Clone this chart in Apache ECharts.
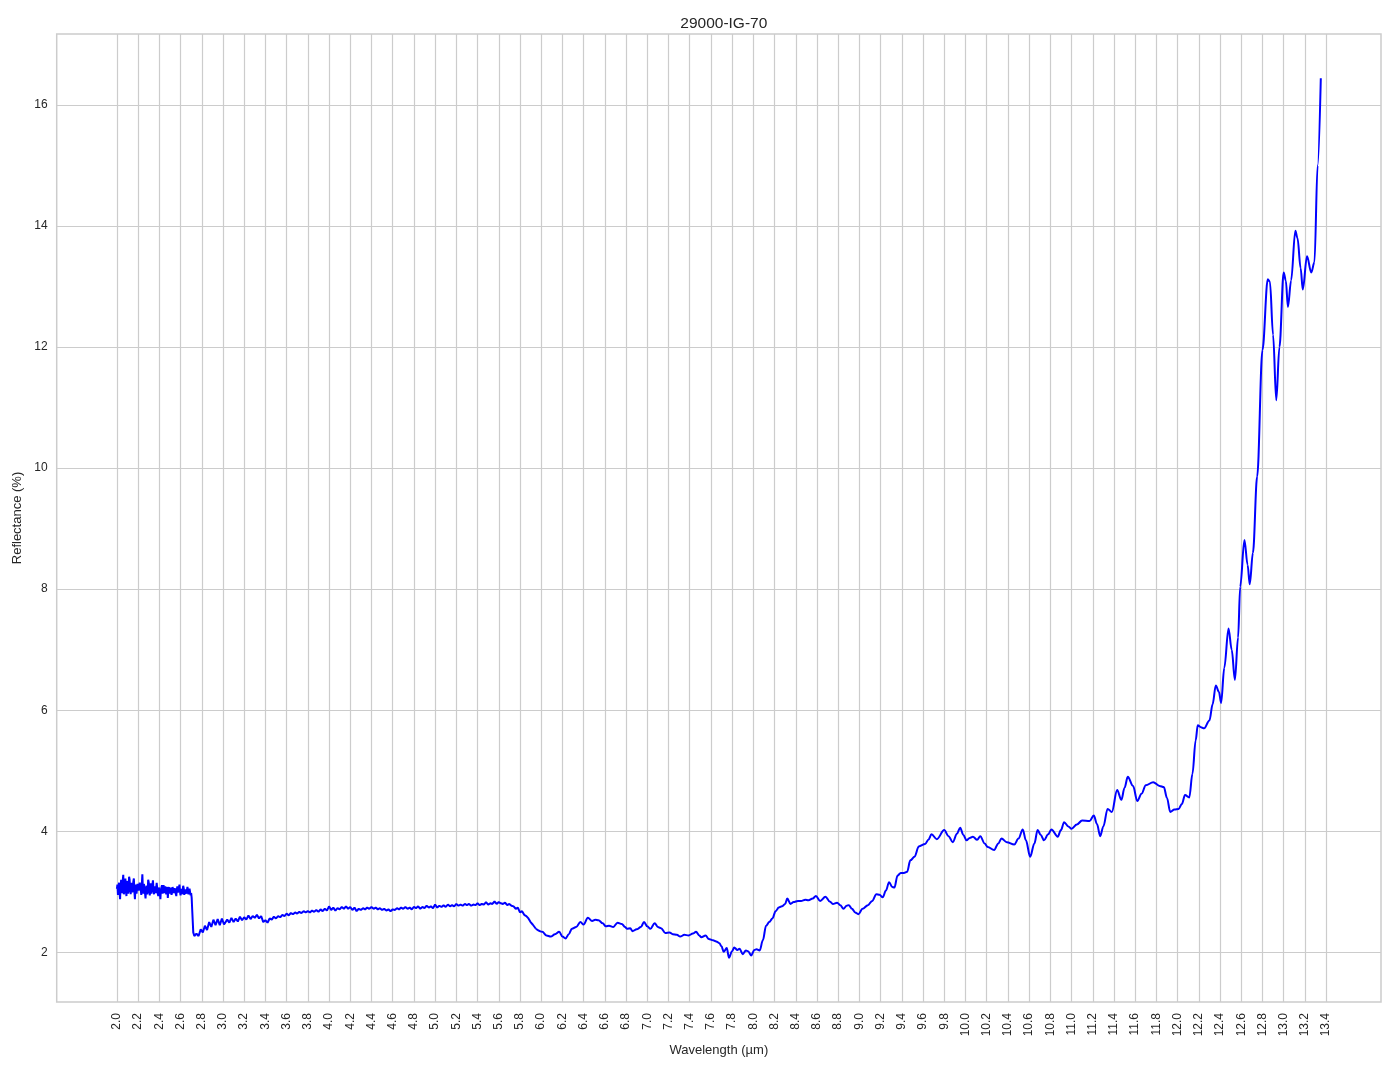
<!DOCTYPE html>
<html>
<head>
<meta charset="utf-8">
<script src="https://cdn.jsdelivr.net/npm/echarts@6/dist/echarts.min.js"></script>
<style>html,body{margin:0;padding:0;background:#fff}#c{width:1394px;height:1069px}</style>
</head>
<body>
<div id="c"></div>
<script>
// Noisy start of the spectrum [wavelength µm, reflectance %]
const noisyPart = [
[2.000,3.05],[2.005,3.12],[2.010,2.95],[2.015,3.08],[2.020,3.15],[2.025,2.99],[2.030,2.88],[2.035,3.10],[2.040,3.20],[2.045,3.03],
[2.050,2.98],[2.055,3.18],[2.060,3.28],[2.065,2.96],[2.070,3.00],[2.075,3.14],[2.080,3.22],[2.085,3.01],[2.090,2.93],[2.095,3.12],
[2.100,3.18],[2.105,2.97],[2.110,3.02],[2.115,3.25],[2.120,3.20],[2.125,3.04],[2.130,2.96],[2.135,3.11],[2.140,3.15],[2.145,2.99],
[2.150,3.05],[2.155,3.17],[2.160,3.22],[2.165,3.00],[2.170,2.88],[2.175,3.06],[2.180,3.12],[2.185,2.97],[2.190,2.98],[2.195,3.13],
[2.200,3.16],[2.205,3.02],[2.210,3.00],[2.215,3.15],[2.220,3.18],[2.225,3.03],[2.230,2.95],[2.235,3.12],[2.240,3.29],[2.245,3.05],
[2.250,2.97],[2.255,3.13],[2.260,3.12],[2.265,2.98],[2.270,2.89],[2.275,3.06],[2.280,3.10],[2.285,2.96],[2.290,3.00],[2.295,3.20],
[2.300,3.16],[2.305,3.01],[2.310,2.94],[2.315,3.08],[2.320,3.14],[2.325,2.97],[2.330,2.99],[2.335,3.12],[2.340,3.19],[2.345,3.02],
[2.350,2.96],[2.355,3.09],[2.360,3.12],[2.365,2.98],[2.370,3.01],[2.375,3.15],[2.380,3.13],[2.385,2.97],[2.390,2.93],[2.395,3.07],
[2.400,3.10],[2.405,2.99],[2.410,2.88],[2.415,3.04],[2.420,3.07],[2.425,3.11],[2.430,2.97],[2.435,3.05],[2.440,3.11],[2.445,2.98],
[2.450,2.95],[2.455,3.09],[2.460,3.06],[2.465,2.96],[2.470,3.00],[2.475,3.08],[2.480,2.90],[2.485,3.02],[2.490,3.08],[2.495,2.97],
[2.500,2.96],[2.505,3.07],[2.510,3.04],[2.515,2.95],[2.520,2.99],[2.525,3.08],[2.530,3.10],[2.535,2.98],[2.540,2.95],[2.545,3.06],
[2.550,3.06],[2.555,2.97],[2.560,2.93],[2.565,3.04],[2.570,3.09],[2.575,2.99],[2.580,2.98],[2.585,3.07],[2.590,3.12],[2.595,3.00],
[2.600,2.94],[2.605,3.05],[2.610,3.08],[2.615,2.96],[2.620,2.97],[2.625,3.10],[2.630,3.06],[2.635,2.95],[2.640,2.92],[2.645,3.04],
[2.650,3.03],[2.655,2.97],[2.660,2.95],[2.665,3.08],[2.670,3.07],[2.675,2.96],[2.680,2.96],[2.685,3.05],[2.690,3.00],[2.695,2.94],
[2.700,2.98],[2.705,2.90],[2.710,2.70]
];
// Plateau 2.7 – 5.95 µm
const plateauPart = [
[2.72,2.33],[2.73,2.27],[2.74,2.26],[2.75,2.31],[2.76,2.34],[2.77,2.27],[2.78,2.30],[2.79,2.38],[2.80,2.40],[2.81,2.33],
[2.82,2.36],[2.83,2.44],[2.84,2.45],[2.85,2.37],[2.86,2.40],[2.87,2.50],[2.88,2.52],[2.89,2.42],[2.90,2.44],[2.91,2.54],
[2.92,2.56],[2.93,2.45],[2.94,2.46],[2.95,2.55],[2.96,2.53],[2.97,2.45],[2.98,2.47],[2.99,2.56],[3.00,2.55],[3.01,2.46],
[3.02,2.48],[3.04,2.54],[3.06,2.49],[3.08,2.57],[3.10,2.50],
[3.12,2.56],[3.14,2.51],[3.16,2.59],[3.18,2.53],[3.20,2.58],[3.22,2.54],[3.24,2.61],[3.26,2.55],[3.28,2.60],[3.30,2.57],
[3.32,2.62],[3.34,2.56],[3.36,2.60],[3.38,2.50],[3.40,2.53],[3.42,2.49],[3.44,2.56],[3.46,2.54],[3.48,2.59],[3.50,2.56],
[3.52,2.60],[3.54,2.58],[3.56,2.62],[3.58,2.60],[3.60,2.64],[3.62,2.61],[3.64,2.65],[3.66,2.63],[3.68,2.66],[3.70,2.64],
[3.72,2.67],[3.74,2.65],[3.76,2.68],[3.78,2.66],[3.80,2.68],[3.82,2.66],[3.84,2.69],[3.86,2.67],[3.88,2.70],[3.90,2.67],
[3.92,2.71],[3.94,2.68],[3.96,2.72],[3.98,2.69],[4.00,2.76],[4.02,2.70],[4.04,2.74],[4.06,2.69],[4.08,2.73],[4.10,2.71],
[4.12,2.75],[4.14,2.72],[4.16,2.76],[4.18,2.72],[4.20,2.75],[4.22,2.70],[4.24,2.74],[4.26,2.68],[4.28,2.72],[4.30,2.70],
[4.32,2.73],[4.34,2.71],[4.36,2.74],[4.38,2.72],[4.40,2.75],[4.42,2.72],[4.44,2.74],[4.46,2.71],[4.48,2.73],[4.50,2.70],
[4.52,2.72],[4.54,2.69],[4.56,2.71],[4.58,2.68],[4.60,2.71],[4.62,2.70],[4.64,2.73],[4.66,2.71],[4.68,2.74],[4.70,2.72],
[4.72,2.75],[4.74,2.72],[4.76,2.74],[4.78,2.71],[4.80,2.75],[4.82,2.73],[4.84,2.76],[4.86,2.72],[4.88,2.75],[4.90,2.73],
[4.92,2.77],[4.94,2.74],[4.96,2.76],[4.98,2.73],[5.00,2.79],[5.02,2.74],[5.04,2.77],[5.06,2.75],[5.08,2.78],[5.10,2.75],
[5.12,2.79],[5.14,2.76],[5.16,2.78],[5.18,2.76],[5.20,2.80],[5.22,2.77],[5.24,2.79],[5.26,2.77],[5.28,2.80],[5.30,2.78],
[5.32,2.80],[5.34,2.77],[5.36,2.79],[5.38,2.78],[5.40,2.81],[5.42,2.78],[5.44,2.80],[5.46,2.79],[5.48,2.83],[5.50,2.79],
[5.52,2.81],[5.54,2.80],[5.56,2.84],[5.58,2.80],[5.60,2.83],[5.62,2.81],[5.64,2.80],[5.66,2.82],[5.68,2.78],[5.70,2.80],
[5.72,2.77],[5.74,2.76],[5.76,2.72],[5.78,2.74],[5.80,2.66],[5.82,2.68],[5.84,2.62],[5.86,2.60],[5.88,2.56],[5.90,2.50],
[5.92,2.46],[5.95,2.39]
];
// Smooth part 5.95 – 13.35 µm
const smoothPart = [
[5.95,2.39],[6.01,2.34],[6.05,2.28],[6.09,2.26],[6.13,2.30],[6.17,2.34],[6.20,2.26],[6.23,2.23],[6.26,2.30],[6.29,2.39],
[6.33,2.42],[6.37,2.50],[6.40,2.46],[6.44,2.57],[6.48,2.52],[6.51,2.54],[6.54,2.53],[6.58,2.48],[6.61,2.43],[6.64,2.44],
[6.68,2.42],[6.72,2.49],[6.76,2.47],[6.79,2.42],[6.81,2.39],[6.84,2.40],[6.86,2.35],[6.90,2.38],[6.94,2.42],[6.97,2.50],
[7.00,2.43],[7.03,2.39],[7.07,2.48],[7.10,2.42],[7.13,2.40],[7.17,2.32],[7.21,2.33],[7.24,2.30],[7.28,2.29],[7.31,2.26],
[7.35,2.29],[7.39,2.28],[7.43,2.31],[7.46,2.34],[7.49,2.28],[7.51,2.25],[7.55,2.28],[7.58,2.22],[7.62,2.20],[7.65,2.18],
[7.68,2.15],[7.70,2.10],[7.72,2.01],[7.75,2.07],[7.77,1.91],[7.80,2.02],[7.82,2.08],[7.85,2.04],[7.87,2.06],[7.90,1.97],
[7.93,2.03],[7.95,2.02],[7.98,1.95],[8.01,2.04],[8.03,2.05],[8.06,2.03],[8.09,2.20],[8.12,2.44],[8.15,2.50],[8.18,2.56],
[8.21,2.68],[8.24,2.74],[8.27,2.76],[8.30,2.80],[8.32,2.89],[8.35,2.80],[8.38,2.83],[8.42,2.85],[8.45,2.85],[8.49,2.87],
[8.52,2.86],[8.56,2.89],[8.59,2.93],[8.63,2.85],[8.68,2.92],[8.72,2.84],[8.75,2.80],[8.79,2.82],[8.82,2.78],[8.85,2.72],
[8.88,2.77],[8.90,2.78],[8.93,2.72],[8.96,2.66],[8.99,2.63],[9.03,2.72],[9.08,2.78],[9.12,2.85],[9.16,2.96],[9.19,2.95],
[9.22,2.91],[9.25,3.02],[9.28,3.16],[9.31,3.08],[9.33,3.07],[9.36,3.27],[9.39,3.31],[9.42,3.31],[9.45,3.33],[9.48,3.52],
[9.52,3.58],[9.56,3.75],[9.62,3.79],[9.65,3.86],[9.68,3.95],[9.73,3.87],[9.80,4.02],[9.84,3.92],[9.88,3.82],[9.92,3.96],
[9.95,4.06],[9.98,3.94],[10.01,3.85],[10.04,3.89],[10.07,3.91],[10.11,3.86],[10.14,3.92],[10.18,3.80],[10.21,3.74],[10.27,3.69],
[10.31,3.80],[10.34,3.88],[10.39,3.82],[10.46,3.78],[10.50,3.88],[10.54,4.03],[10.57,3.85],[10.61,3.58],[10.65,3.80],[10.68,4.02],
[10.71,3.94],[10.74,3.85],[10.78,3.95],[10.81,4.03],[10.87,3.91],[10.90,4.02],[10.93,4.15],[10.97,4.08],[11.00,4.04],[11.05,4.11],
[11.10,4.18],[11.17,4.17],[11.21,4.26],[11.24,4.12],[11.27,3.92],[11.30,4.08],[11.34,4.37],[11.38,4.32],[11.43,4.68],[11.47,4.52],
[11.50,4.72],[11.53,4.90],[11.58,4.75],[11.62,4.50],[11.66,4.62],[11.70,4.76],[11.77,4.81],[11.83,4.75],[11.87,4.73],[11.90,4.55],
[11.93,4.32],[11.97,4.36],[12.01,4.37],[12.04,4.45],[12.07,4.60],[12.11,4.56],[12.14,4.95],[12.17,5.50],[12.19,5.75],[12.22,5.72],
[12.25,5.70],[12.30,5.83],[12.33,6.10],[12.36,6.41],[12.39,6.30],[12.41,6.12],[12.44,6.70],[12.48,7.35],[12.51,7.00],[12.54,6.50],
[12.57,7.20],[12.59,8.04],[12.63,8.81],[12.66,8.40],[12.68,8.08],[12.71,8.60],[12.75,9.86],[12.80,11.95],[12.85,13.12],[12.87,13.08],
[12.90,12.20],[12.93,11.12],[12.96,12.00],[13.00,13.23],[13.02,13.10],[13.04,12.66],[13.07,13.10],[13.11,13.92],[13.13,13.80],[13.16,13.30],
[13.18,12.95],[13.22,13.50],[13.26,13.23],[13.29,13.40],[13.32,15.00],[13.35,16.44]
];
const xTicks = [2.0,2.2,2.4,2.6,2.8,3.0,3.2,3.4,3.6,3.8,4.0,4.2,4.4,4.6,4.8,5.0,5.2,5.4,5.6,5.8,6.0,6.2,6.4,6.6,6.8,7.0,7.2,7.4,7.6,7.8,8.0,8.2,8.4,8.6,8.8,9.0,9.2,9.4,9.6,9.8,10.0,10.2,10.4,10.6,10.8,11.0,11.2,11.4,11.6,11.8,12.0,12.2,12.4,12.6,12.8,13.0,13.2,13.4];
const yTicks = [2,4,6,8,10,12,14,16];

const FONT = '"Liberation Sans", Arial, Helvetica, sans-serif';
const TXT = '#262626';
const GRIDC = '#cccccc';

const chart = echarts.init(document.getElementById('c'), null, {renderer: 'canvas'});
const lineStyle = {color: '#0000ff', width: 2};
chart.setOption({
  backgroundColor: '#ffffff',
  animation: false,
  title: {
    text: '29000-IG-70', left: 718.8, top: 11, textAlign: 'center',
    textStyle: {fontFamily: FONT, fontSize: 15.5, fontWeight: 'normal', color: TXT}
  },
  grid: {left: 56.7, right: 13, top: 34, bottom: 67, show: true, borderColor: GRIDC, borderWidth: 1.5, backgroundColor: 'transparent'},
  xAxis: {
    type: 'value', min: 1.4325, max: 13.9175,
    name: 'Wavelength (µm)', nameLocation: 'middle', nameGap: 38,
    nameTextStyle: {fontFamily: FONT, fontSize: 13, color: TXT},
    axisLine: {show: false},
    axisTick: {show: false, customValues: xTicks},
    axisLabel: {customValues: xTicks, rotate: 90, margin: 11, fontFamily: FONT, fontSize: 12, color: TXT,
      formatter: v => v.toFixed(1)},
    splitLine: {show: true, lineStyle: {color: GRIDC, width: 1.2}}
  },
  yAxis: {
    type: 'value', min: 1.18, max: 17.17,
    name: 'Reflectance (%)', nameLocation: 'middle', nameGap: 29, nameRotate: 90,
    nameTextStyle: {fontFamily: FONT, fontSize: 13, color: TXT},
    axisLine: {show: false},
    axisTick: {show: false, customValues: yTicks},
    axisLabel: {customValues: yTicks, margin: 9, fontFamily: FONT, fontSize: 12, color: TXT,
      formatter: v => String(Math.round(v))},
    splitLine: {show: true, lineStyle: {color: GRIDC, width: 1.2}}
  },
  series: [
    {type: 'line', data: noisyPart.concat(plateauPart), showSymbol: false, symbol: 'none', lineStyle: lineStyle, z: 3},
    {type: 'line', data: smoothPart, showSymbol: false, symbol: 'none', smooth: 0.35, smoothMonotone: 'x', lineStyle: lineStyle, z: 3}
  ]
});
</script>
</body>
</html>
